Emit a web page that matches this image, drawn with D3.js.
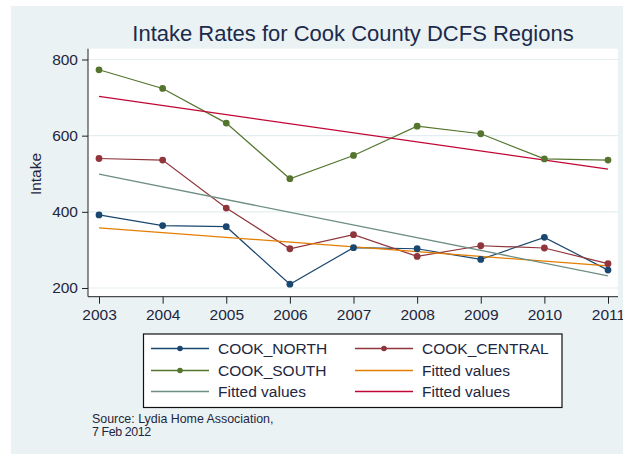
<!DOCTYPE html>
<html>
<head>
<meta charset="utf-8">
<script src="https://cdn.jsdelivr.net/npm/d3@7"></script>
<style>
  html, body { margin: 0; padding: 0; background: #fff; }
  svg text { font-family: "Liberation Sans", Arial, sans-serif; }
</style>
</head>
<body>
<div id="chart"></div>
<script>
// Данные
const years = [2003, 2004, 2005, 2006, 2007, 2008, 2009, 2010, 2011];
const cookNorth = [392, 364, 361, 210, 306, 303, 275, 333, 247];
const cookCentral = [540, 536, 410, 303, 340, 283, 311, 305, 264];
const cookSouth = [773, 724, 633, 487, 548, 625, 605, 539, 536];
// Линии тренда: значения в 2003 и 2011
const fitNorth = [358, 258];
const fitCentral = [499, 232];
const fitSouth = [703, 512];
const yTicks = [200, 400, 600, 800];

const width = 623, height = 454;
const plot = { left: 88, right: 618, top: 48.7, bottom: 296.7 };

const svg = d3.select("#chart")
    .append("svg")
    .attr("width", width)
    .attr("height", height);

// Фон
svg.append("rect")
    .attr("x", 11).attr("y", 6)
    .attr("width", width - 11).attr("height", height - 6)
    .attr("fill", "#eaf2f3");

svg.append("rect")
    .attr("x", plot.left).attr("y", plot.top)
    .attr("width", plot.right - plot.left).attr("height", plot.bottom - plot.top)
    .attr("fill", "#fff");

const x = d3.scaleLinear().domain([2003, 2011]).range([99, 608]);
const y = d3.scaleLinear().domain([200, 800]).range([288, 59.5]);

// Сетка
svg.append("g")
    .selectAll("line")
    .data(yTicks)
    .enter()
    .append("line")
    .attr("x1", plot.left).attr("x2", plot.right)
    .attr("y1", d => y(d)).attr("y2", d => y(d))
    .attr("stroke", "#e4eef0")
    .attr("stroke-width", 1.2);

// Оси
const yAxis = svg.append("g")
    .attr("transform", `translate(${plot.left},0)`)
    .call(d3.axisLeft(y).tickValues(yTicks).tickSize(6).tickPadding(4).tickFormat(d3.format("d")));
yAxis.select(".domain").attr("d", `M0,${plot.top}V${plot.bottom}`).attr("stroke", "#222");

const xAxis = svg.append("g")
    .attr("transform", `translate(0,${plot.bottom})`)
    .call(d3.axisBottom(x).tickValues(years).tickSize(7).tickPadding(5).tickFormat(d3.format("d")));
xAxis.select(".domain").attr("d", `M${plot.left},0H${plot.right}`).attr("stroke", "#222");

[yAxis, xAxis].forEach(a => {
    a.selectAll(".tick line").attr("stroke", "#222");
    a.selectAll(".tick text")
        .attr("fill", "#1e2640")
        .attr("font-size", "15.5px");
});

// Заголовок и подпись оси
svg.append("text")
    .attr("x", 353).attr("y", 41)
    .attr("text-anchor", "middle")
    .attr("font-size", "22px")
    .attr("fill", "#1c2a4c")
    .text("Intake Rates for Cook County DCFS Regions");

svg.append("text")
    .attr("transform", "translate(41,174) rotate(-90)")
    .attr("text-anchor", "middle")
    .attr("font-size", "15.5px")
    .attr("fill", "#1e2640")
    .text("Intake");

// Серии
const series = [
    { name: "COOK_NORTH", values: cookNorth, color: "#1a476f" },
    { name: "COOK_CENTRAL", values: cookCentral, color: "#90353b" },
    { name: "COOK_SOUTH", values: cookSouth, color: "#55752f" }
];
const fits = [
    { values: fitNorth, color: "#e37e00" },
    { values: fitCentral, color: "#6e8e84" },
    { values: fitSouth, color: "#c10534" }
];

const line = d3.line().x(d => x(d[0])).y(d => y(d[1]));

// Сначала линии серий, затем тренды, затем маркеры
series.forEach(s => {
    svg.append("path")
        .datum(years.map((yr, i) => [yr, s.values[i]]))
        .attr("d", line)
        .attr("fill", "none")
        .attr("stroke", s.color)
        .attr("stroke-width", 1.2);
});

fits.forEach(f => {
    svg.append("path")
        .datum([[years[0], f.values[0]], [years[years.length - 1], f.values[1]]])
        .attr("d", line)
        .attr("fill", "none")
        .attr("stroke", f.color)
        .attr("stroke-width", 1.3);
});

series.forEach(s => {
    svg.append("g")
        .selectAll("circle")
        .data(years.map((yr, i) => [yr, s.values[i]]))
        .enter()
        .append("circle")
        .attr("cx", d => x(d[0]))
        .attr("cy", d => y(d[1]))
        .attr("r", 3.4)
        .attr("fill", s.color);
});

// Легенда
const legend = svg.append("g");
legend.append("rect")
    .attr("x", 143.5).attr("y", 334)
    .attr("width", 418.5).attr("height", 73.5)
    .attr("fill", "#fff")
    .attr("stroke", "#111")
    .attr("stroke-width", 1.2);

const legendItems = [
    { label: "COOK_NORTH", color: "#1a476f", marker: true, col: 0, row: 0 },
    { label: "COOK_CENTRAL", color: "#90353b", marker: true, col: 1, row: 0 },
    { label: "COOK_SOUTH", color: "#55752f", marker: true, col: 0, row: 1 },
    { label: "Fitted values", color: "#e37e00", marker: false, col: 1, row: 1 },
    { label: "Fitted values", color: "#6e8e84", marker: false, col: 0, row: 2 },
    { label: "Fitted values", color: "#c10534", marker: false, col: 1, row: 2 }
];
const colX = [151, 355];
const rowY = [348.5, 370.5, 391.5];

legendItems.forEach(it => {
    const lx = colX[it.col], ly = rowY[it.row];
    legend.append("line")
        .attr("x1", lx).attr("x2", lx + 58)
        .attr("y1", ly).attr("y2", ly)
        .attr("stroke", it.color)
        .attr("stroke-width", 1.4);
    if (it.marker) {
        legend.append("circle")
            .attr("cx", lx + 29).attr("cy", ly)
            .attr("r", 2.8)
            .attr("fill", it.color);
    }
    legend.append("text")
        .attr("x", lx + 67).attr("y", ly)
        .attr("dy", "0.36em")
        .attr("font-size", "15.5px")
        .attr("fill", "#1e2640")
        .text(it.label);
});

// Источник
svg.append("text")
    .attr("x", 92).attr("y", 422.5)
    .attr("font-size", "12.4px")
    .attr("fill", "#1e2640")
    .text("Source: Lydia Home Association,");
svg.append("text")
    .attr("x", 92).attr("y", 435.5)
    .attr("font-size", "12.4px")
    .attr("letter-spacing", "-0.4px")
    .attr("fill", "#1e2640")
    .text("7 Feb 2012");
</script>
</body>
</html>
